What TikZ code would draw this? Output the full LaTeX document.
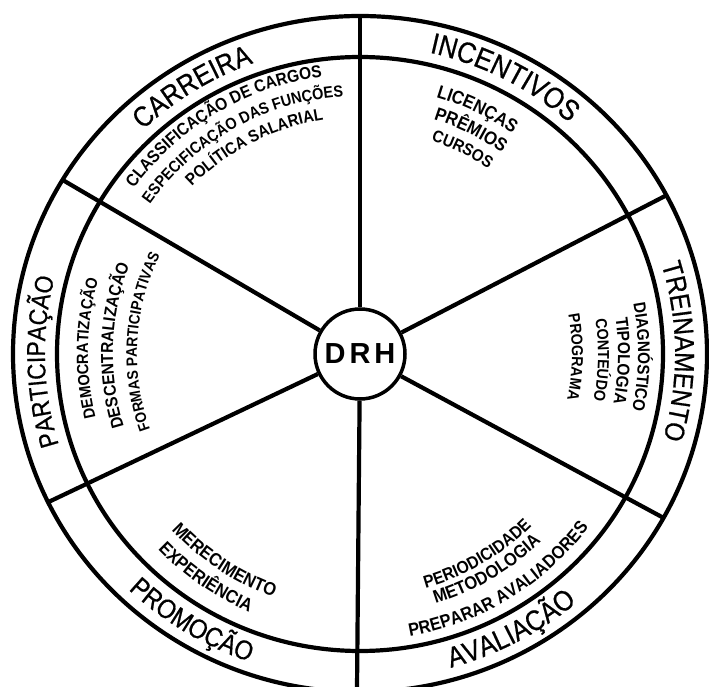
\documentclass[tikz,border=0pt]{standalone}
\usepackage{fontspec}
\setmainfont{Liberation Sans}
\newfontfamily\ringfont[FakeStretch=0.88,FakeBold=0.6]{Liberation Sans}
\newfontfamily\itemfont[FakeStretch=0.9]{Liberation Sans Bold}
\usetikzlibrary{calc,decorations.text}

\newcommand{\sz}[1]{\fontsize{#1}{#1}\selectfont}
% text set along an arc round the hub
\newcommand{\arclabel}[7]{%
  \path[decorate,decoration={text along path,text align=#5,text={|#6|#7}}]
    ($(drh.center)+(#1:#3 and #4)$) arc[start angle=#1,end angle=#2,x radius=#3,y radius=#4];}

\begin{document}
\begin{tikzpicture}[x=1pt,y=1pt,line width=4.2pt,
    hub/.style={circle,draw,line width=3.5pt,minimum size=90pt,inner sep=0pt,font=\bfseries\sz{29}}]
    \useasboundingbox (0,0) rectangle (709,686);
    \node[hub] (drh) at (360,332) {D\hspace{4pt}R\hspace{4pt}H};
    \draw (drh.center) ellipse[x radius=347,y radius=338];
    \draw (drh.center) ellipse[x radius=303,y radius=297];
    \foreach \a in {90,28,-29,269.5,206,149}{
      \draw ($(drh.center)+(\a:347 and 338)$) -- (drh);
    }
    % sector names
    \arclabel{182}{62}{315}{309}{center}{\ringfont\sz{28.6}}{CARREIRA}
    \arclabel{122.5}{2.5}{315}{309}{center}{\ringfont\sz{29.4}}{INCENTIVOS}
    \arclabel{60.5}{-59.5}{315}{309}{center}{\ringfont\sz{27.6}}{TREINAMENTO}
    \arclabel{241.4}{121.4}{315}{309}{center}{\ringfont\sz{25.8}}{PARTICIPAÇÃO}
    \arclabel{-121.5}{-1.5}{335}{326}{center}{\ringfont\sz{28.7}}{AVALIAÇÃO}
    \arclabel{178}{298}{335}{326}{center}{\ringfont\sz{27.1}}{PROMOÇÃO}
    % sector items
    \arclabel{180.8}{60.8}{280}{280}{center}{\itemfont\sz{17.2}}{CLASSIFICAÇÃO DE CARGOS}
    \arclabel{179.1}{59.1}{258}{258}{center}{\itemfont\sz{16.1}}{ESPECIFICAÇÃO DAS FUNÇÕES}
    \arclabel{177}{57}{237}{237}{center}{\itemfont\sz{16.7}}{POLÍTICA SALARIAL}
    \arclabel{73.5}{13.5}{268}{268}{left}{\itemfont\sz{18.5}}{LICENÇAS}
    \arclabel{72.6}{12.6}{246}{246}{left}{\itemfont\sz{18.5}}{PRÊMIOS}
    \arclabel{71.6}{11.6}{225}{225}{left}{\itemfont\sz{16.7}}{CURSOS}
    \arclabel{59.4}{-60.6}{278}{278}{center}{\itemfont\sz{17}}{DIAGNÓSTICO}
    \arclabel{58.5}{-61.5}{258}{258}{center}{\itemfont\sz{17.3}}{TIPOLOGIA}
    \arclabel{58.6}{-61.4}{238}{238}{center}{\itemfont\sz{15.9}}{CONTEÚDO}
    \arclabel{59.2}{-60.8}{212}{212}{center}{\itemfont\sz{15.9}}{PROGRAMA}
    \arclabel{238.8}{118.8}{272}{272}{center}{\itemfont\sz{16.2}}{DEMOCRATIZAÇÃO}
    \arclabel{238}{118}{247}{247}{center}{\itemfont\sz{17.2}}{DESCENTRALIZAÇÃO}
    \arclabel{236.7}{116.7}{223}{223}{center}{\itemfont\sz{15.4}}{FORMAS PARTICIPATIVAS}
    \arclabel{223}{283}{258}{258}{left}{\itemfont\sz{18.3}}{MERECIMENTO}
    \arclabel{224}{284}{281}{281}{left}{\itemfont\sz{18.3}}{EXPERIÊNCIA}
    \arclabel{-119.7}{0.3}{243}{243}{center}{\itemfont\sz{17.4}}{PERIODICIDADE}
    \arclabel{-119.6}{0.4}{261}{261}{center}{\itemfont\sz{18.2}}{METODOLOGIA}
    \arclabel{-118.6}{1.4}{287}{287}{center}{\itemfont\sz{18.1}}{PREPARAR AVALIADORES}
\end{tikzpicture}
\end{document}
